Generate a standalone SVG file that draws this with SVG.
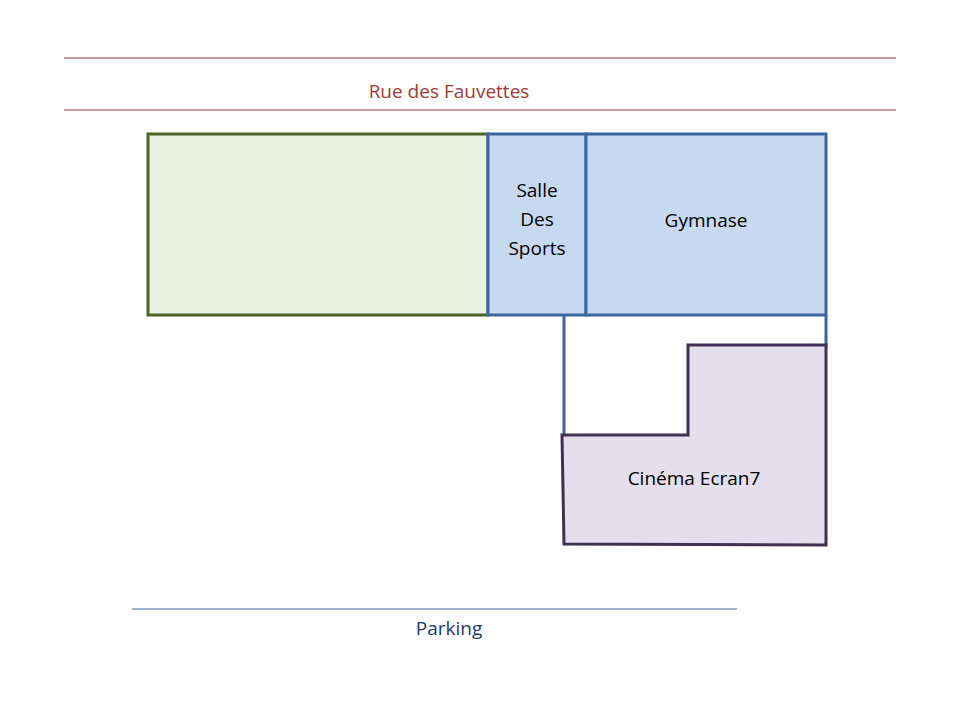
<svg xmlns="http://www.w3.org/2000/svg" width="960" height="720" viewBox="0 0 960 720">
<style>
text{font-family:"Open Sans","Liberation Sans",sans-serif;font-size:19px;text-anchor:middle}
.bl{fill:#c6d9f1;stroke:#3b64a0;stroke-width:3}
</style>
<rect width="960" height="720" fill="#fff"/>
<g id="rue">
<line x1="64" y1="58" x2="896" y2="58" stroke="#8b3a3a" stroke-width="1"/>
<line x1="64" y1="110" x2="896" y2="110" stroke="#8b3a3a" stroke-width="1"/>
<text x="449" y="98" fill="#9e3a38">Rue des Fauvettes</text>
</g>
<g id="terrain"><rect x="148" y="134" width="340" height="181" fill="#ebf1de" stroke="#4f6228" stroke-width="3"/></g>
<g id="salle"><rect x="488" y="134" width="98" height="181" class="bl"/>
<text fill="#000" x="537" y="197">Salle</text><text x="537" y="226">Des</text><text x="537" y="255">Sports</text></g>
<g id="gymnase"><rect x="586" y="134" width="240" height="181" class="bl"/><text x="706" y="227">Gymnase</text></g>
<g id="connectors" stroke="#3b64a0" stroke-width="3" fill="none">
<line x1="564" y1="315" x2="564" y2="436"/>
<line x1="826" y1="315" x2="826" y2="346"/>
</g>
<g id="cinema"><polygon points="688,345 826,345 826,545 564,544 562,435 688,435" fill="#e4dfec" stroke="#3f3151" stroke-width="3"/>
<text x="694" y="485">Cinéma Ecran7</text></g>
<g id="parking">
<line x1="132" y1="609" x2="737" y2="609" stroke="#3b64a0" stroke-width="1"/>
<text x="449" y="635" fill="#1f3864">Parking</text>
</g>
</svg>
